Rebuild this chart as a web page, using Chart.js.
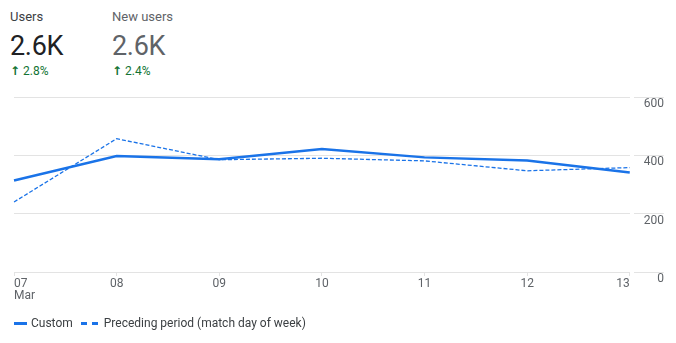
<!DOCTYPE html>
<html>
<head>
<meta charset="utf-8">
<script src="https://cdn.jsdelivr.net/npm/chart.js@4/dist/chart.umd.min.js"></script>
<style>
  body { margin: 0; width: 676px; height: 343px; background: #fff; font-family: Roboto, "Noto Sans", sans-serif; position: relative; overflow: hidden; }
  #usersChart { position: absolute; left: 0; top: 0; }
  .kpi { position: absolute; top: 8px; }
  .kpi-label { font-size: 13px; color: #3c4043; line-height: 18px; }
  .kpi-value { font-size: 27px; line-height: 34px; margin-top: 3px; letter-spacing: -0.3px; }
  .kpi-change { font-size: 12px; color: #137333; line-height: 16px; }
  .kpi-change .arrow { font-family: "DejaVu Sans", sans-serif; font-weight: bold; font-size: 12px; }
  .legend { position: absolute; top: 315px; left: 14px; font-size: 12px; color: #3c4043; display: flex; align-items: center; line-height: 16px; }
  .swatch-solid { width: 13px; height: 3px; background: #1a73e8; margin-right: 4px; }
  .swatch-dash { width: 17px; height: 3px; margin-left: 8px; margin-right: 6px;
    background: linear-gradient(to right, #1a73e8 0 6px, transparent 6px 11px, #1a73e8 11px 17px); }
</style>
</head>
<body>
<div class="kpi" style="left:10px">
  <div class="kpi-label">Users</div>
  <div class="kpi-value" style="color:#202124">2.6K</div>
  <div class="kpi-change"><span class="arrow">↑</span> 2.8%</div>
</div>
<div class="kpi" style="left:112px">
  <div class="kpi-label" style="color:#5f6368">New users</div>
  <div class="kpi-value" style="color:#5f6368">2.6K</div>
  <div class="kpi-change"><span class="arrow">↑</span> 2.4%</div>
</div>
<canvas id="usersChart" width="676" height="343"></canvas>
<div class="legend">
  <span class="swatch-solid"></span>Custom
  <span class="swatch-dash"></span>Preceding period (match day of week)
</div>
<script>
// Datos
const days = [['07', 'Mar'], '08', '09', '10', '11', '12', '13'];
const customUsers = [314, 398, 387, 422, 393, 382, 341];
const precedingUsers = [240, 457, 385, 390, 381, 347, 358];
const yTicks = [0, 200, 400, 600];

const blue = '#1a73e8';
const gridColor = '#e3e3e3';
const tickColor = '#5f6368';

const ctx = document.getElementById('usersChart').getContext('2d');

new Chart(ctx, {
    type: 'line',
    data: {
        labels: days,
        datasets: [{
            label: 'Custom',
            data: customUsers,
            borderColor: blue,
            borderWidth: 2.5,
            pointRadius: 0,
            tension: 0
        }, {
            label: 'Preceding period (match day of week)',
            data: precedingUsers,
            borderColor: blue,
            borderWidth: 1.3,
            borderDash: [4, 2],
            pointRadius: 0,
            tension: 0
        }]
    },
    options: {
        responsive: false,
        animation: false,
        layout: {
            padding: { left: 14, top: 97, right: 12, bottom: 39 }
        },
        plugins: {
            legend: { display: false },
            tooltip: { enabled: false }
        },
        scales: {
            x: {
                offset: false,
                border: { display: false },
                grid: {
                    drawOnChartArea: false,
                    drawTicks: true,
                    tickLength: 4,
                    color: gridColor
                },
                ticks: {
                    align: 'inner',
                    maxRotation: 0,
                    padding: 2,
                    color: tickColor,
                    font: { family: 'Roboto', size: 12, lineHeight: 1 }
                }
            },
            y: {
                position: 'right',
                min: yTicks[0],
                max: yTicks[yTicks.length - 1],
                afterBuildTicks: (scale) => {
                    scale.ticks = yTicks.map(v => ({ value: v }));
                },
                border: { display: false },
                grid: {
                    color: gridColor,
                    drawTicks: true,
                    tickLength: 34,
                    // hueco de 4px y luego el trazo corto encima de la etiqueta
                    tickBorderDash: [0, 4, 30, 100]
                },
                ticks: {
                    crossAlign: 'far',
                    padding: -10,
                    labelOffset: 7,
                    color: tickColor,
                    font: { family: 'Roboto', size: 12 }
                }
            }
        }
    }
});
</script>
</body>
</html>
